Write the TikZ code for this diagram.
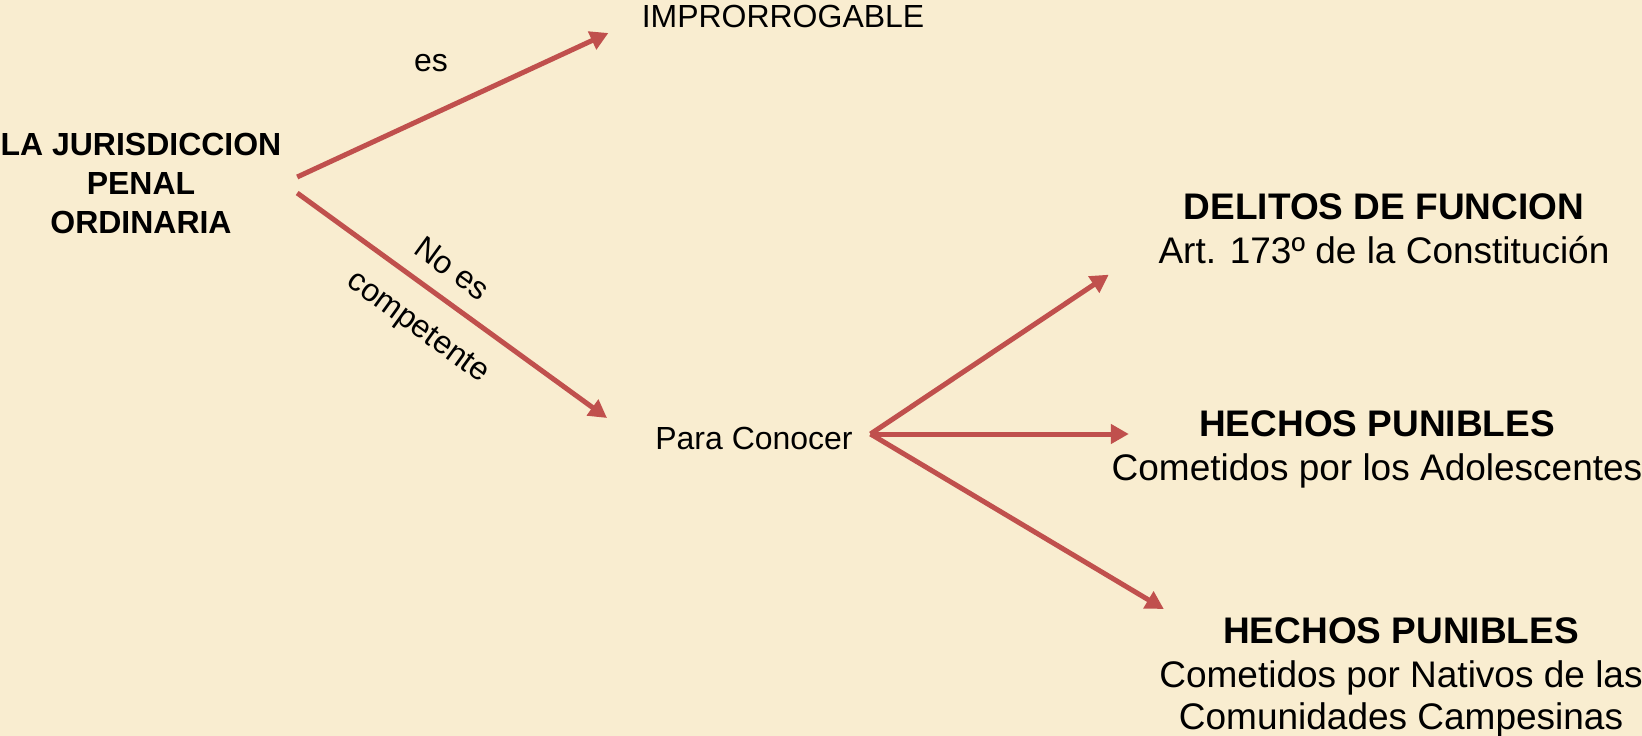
\documentclass[tikz,border=0pt]{standalone}
\usepackage{fontspec}
\setmainfont{Liberation Sans}
\usetikzlibrary{arrows.meta,positioning}
\definecolor{parchment}{RGB}{249, 237, 208}
\definecolor{linkRed}{RGB}{192, 80, 77}

\begin{document}
\begin{tikzpicture}[
  x=0.02cm, y=-0.02cm,
  small/.style={
    inner sep=0pt,
    align=center,
    text=black,
    font=\fontsize{18.2}{22.2}\selectfont
  },
  headline/.style={
    inner sep=0pt,
    text height=0.555cm,
    text depth=0.185cm,
    font=\fontsize{21.06}{25.6}\selectfont\bfseries
  },
  detail/.style={headline,font=\fontsize{21.06}{25.6}\selectfont},
  arrow/.style={-{Triangle[length=0.36cm,width=0.38cm]},line width=0.1cm,linkRed}
]
  \fill[parchment] (0,0) rectangle (1642,736);
  \useasboundingbox (0,0) rectangle (1642,736);

  \node[small,font=\fontsize{18.2}{22.2}\selectfont\bfseries] (jurisdiccion) at (141,183) {LA JURISDICCION\\PENAL\\ORDINARIA};
  \node[small] (improrrogable) at (783,16) {IMPRORROGABLE};
  \node[small] (conocer) at (754,438) {Para Conocer};

  \node[headline] (funcion) at (1384,210) {DELITOS DE FUNCION};
  \node[detail,below=0.14cm of funcion] (funcionart) {Art. 173º de la Constitución};
  \node[headline] (adolescentes) at (1377,427) {HECHOS PUNIBLES};
  \node[detail,below=0.14cm of adolescentes] (adolescentesdet) {Cometidos por los Adolescentes};
  \node[headline] (nativos) at (1401,634) {HECHOS PUNIBLES};
  \node[detail,below=0.14cm of nativos] (nativosdet) {Cometidos por Nativos de las};
  \node[detail,below=0.08cm of nativosdet] (comunidades) {Comunidades Campesinas};

  \draw[arrow] ([shift={(15.5,-6)}]jurisdiccion.east) --
    node[small,pos=0.43,above=0.81cm] (es) {es}
    ([shift={(-33,17)}]improrrogable.west);
  \draw[arrow] ([shift={(15.5,10)}]jurisdiccion.east) --
    node[small,sloped,pos=0.444,above=0.33cm] (noes) {No es}
    node[small,sloped,pos=0.461,below=0.46cm] (competente) {competente}
    ([shift={(-48,-20)}]conocer.west);
  \draw[arrow] ([shift={(17.5,-4)}]conocer.east) -- ([shift={(-49.5,20)}]funcionart.west);
  \draw[arrow] ([shift={(17.5,-4)}]conocer.east) -- ([shift={(-70,7)}]adolescentes.west);
  \draw[arrow] ([shift={(17.5,-4)}]conocer.east) -- ([shift={(-59,-25)}]nativos.west);
\end{tikzpicture}
\end{document}
